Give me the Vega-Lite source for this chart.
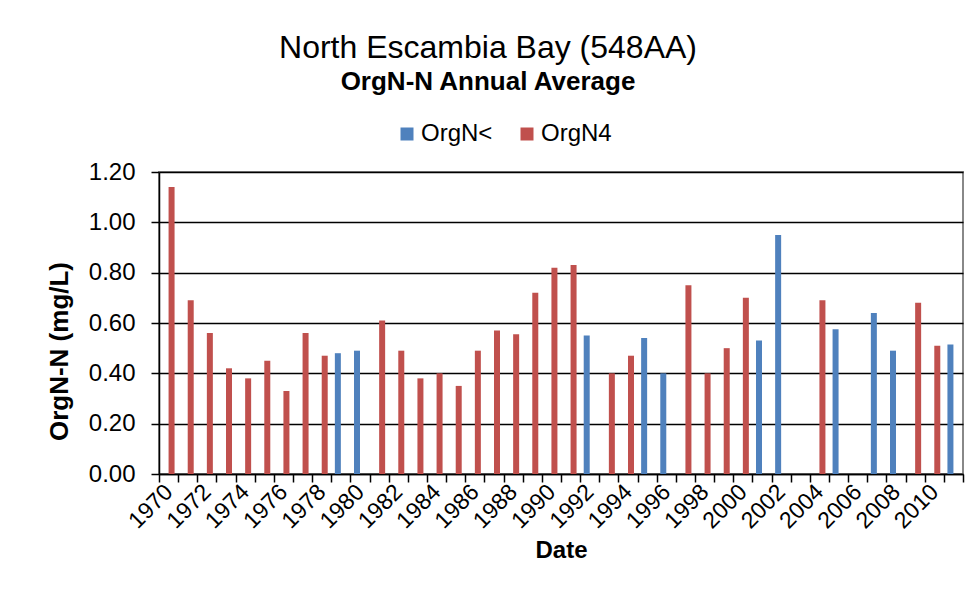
{
  "$schema": "https://vega.github.io/schema/vega-lite/v6.json",
  "autosize": "none",
  "width": 804,
  "height": 302,
  "padding": {"left": 159, "top": 172, "right": 17, "bottom": 133},
  "background": "white",
  "title": {
    "text": "North Escambia Bay (548AA)",
    "subtitle": "OrgN-N Annual Average",
    "anchor": "middle",
    "dx": -73,
    "offset": 26,
    "font": "Liberation Sans",
    "fontSize": 32,
    "fontWeight": "normal",
    "color": "black",
    "subtitleFont": "Liberation Sans",
    "subtitleFontSize": 26,
    "subtitleFontWeight": "bold",
    "subtitleColor": "black",
    "subtitlePadding": 4
  },
  "data": {
    "values": [
      {"year": 1970, "series": "OrgN4", "value": 1.14},
      {"year": 1971, "series": "OrgN4", "value": 0.69},
      {"year": 1972, "series": "OrgN4", "value": 0.56},
      {"year": 1973, "series": "OrgN4", "value": 0.42},
      {"year": 1974, "series": "OrgN4", "value": 0.38},
      {"year": 1975, "series": "OrgN4", "value": 0.45},
      {"year": 1976, "series": "OrgN4", "value": 0.33},
      {"year": 1977, "series": "OrgN4", "value": 0.56},
      {"year": 1978, "series": "OrgN4", "value": 0.47},
      {"year": 1979, "series": "OrgN<", "value": 0.48},
      {"year": 1980, "series": "OrgN<", "value": 0.49},
      {"year": 1981, "series": "OrgN4", "value": 0.61},
      {"year": 1982, "series": "OrgN4", "value": 0.49},
      {"year": 1983, "series": "OrgN4", "value": 0.38},
      {"year": 1984, "series": "OrgN4", "value": 0.40},
      {"year": 1985, "series": "OrgN4", "value": 0.35},
      {"year": 1986, "series": "OrgN4", "value": 0.49},
      {"year": 1987, "series": "OrgN4", "value": 0.57},
      {"year": 1988, "series": "OrgN4", "value": 0.555},
      {"year": 1989, "series": "OrgN4", "value": 0.72},
      {"year": 1990, "series": "OrgN4", "value": 0.82},
      {"year": 1991, "series": "OrgN4", "value": 0.83},
      {"year": 1992, "series": "OrgN<", "value": 0.55},
      {"year": 1993, "series": "OrgN4", "value": 0.40},
      {"year": 1994, "series": "OrgN4", "value": 0.47},
      {"year": 1995, "series": "OrgN<", "value": 0.54},
      {"year": 1996, "series": "OrgN<", "value": 0.40},
      {"year": 1997, "series": "OrgN4", "value": 0.75},
      {"year": 1998, "series": "OrgN4", "value": 0.40},
      {"year": 1999, "series": "OrgN4", "value": 0.50},
      {"year": 2000, "series": "OrgN4", "value": 0.70},
      {"year": 2001, "series": "OrgN<", "value": 0.53},
      {"year": 2002, "series": "OrgN<", "value": 0.95},
      {"year": 2004, "series": "OrgN4", "value": 0.69},
      {"year": 2005, "series": "OrgN<", "value": 0.575},
      {"year": 2007, "series": "OrgN<", "value": 0.64},
      {"year": 2008, "series": "OrgN<", "value": 0.49},
      {"year": 2009, "series": "OrgN4", "value": 0.68},
      {"year": 2010, "series": "OrgN4", "value": 0.51},
      {"year": 2011, "series": "OrgN<", "value": 0.515}
    ]
  },
  "mark": {"type": "bar"},
  "encoding": {
    "x": {
      "field": "year",
      "type": "ordinal",
      "scale": {
        "domain": [1970,1971,1972,1973,1974,1975,1976,1977,1978,1979,1980,1981,1982,1983,1984,1985,1986,1987,1988,1989,1990,1991,1992,1993,1994,1995,1996,1997,1998,1999,2000,2001,2002,2003,2004,2005,2006,2007,2008,2009,2010,2011],
        "paddingInner": 0,
        "paddingOuter": 0
      },
      "axis": {
        "title": "Date",
        "titleFont": "Liberation Sans",
        "titleFontSize": 24,
        "titleFontWeight": "bold",
        "titleColor": "black",
        "titleBaseline": "alphabetic",
        "titleY": 83,
        "labelExpr": "datum.value % 2 == 0 ? datum.label : ''",
        "labelAngle": -45,
        "labelAlign": "right",
        "labelBaseline": "middle",
        "labelFont": "Liberation Sans",
        "labelFontSize": 23,
        "labelColor": "black",
        "labelPadding": 6,
        "labelOverlap": false,
        "labelBound": false,
        "tickBand": "extent",
        "tickSize": 8,
        "tickColor": "black",
        "tickWidth": 1.5,
        "domainColor": "black",
        "domainWidth": 1.5,
        "grid": false
      }
    },
    "xOffset": {
      "field": "series",
      "type": "nominal",
      "scale": {"domain": ["OrgN<", "OrgN4"], "paddingInner": 0, "paddingOuter": 0.595}
    },
    "y": {
      "field": "value",
      "type": "quantitative",
      "scale": {"domain": [0, 1.2], "nice": false},
      "axis": {
        "title": "OrgN-N (mg/L)",
        "titleFont": "Liberation Sans",
        "titleFontSize": 26,
        "titleFontWeight": "bold",
        "titleColor": "black",
        "titleX": -87,
        "titleY": 179,
        "titleAlign": "center",
        "titleBaseline": "bottom",
        "values": [0, 0.2, 0.4, 0.6, 0.8, 1.0, 1.2],
        "format": ".2f",
        "labelFont": "Liberation Sans",
        "labelFontSize": 24,
        "labelColor": "black",
        "labelPadding": 16,
        "tickSize": 8,
        "tickColor": "black",
        "tickWidth": 1.5,
        "domainColor": "black",
        "domainWidth": 1.5,
        "grid": true,
        "gridColor": "black",
        "gridWidth": 1.5
      }
    },
    "color": {
      "field": "series",
      "type": "nominal",
      "scale": {"domain": ["OrgN<", "OrgN4"], "range": ["#4F81BD", "#C0504D"]},
      "legend": {
        "title": null,
        "orient": "none",
        "direction": "horizontal",
        "legendX": 236,
        "legendY": -50,
        "symbolType": "square",
        "symbolSize": 169,
        "symbolStrokeWidth": 0,
        "labelFont": "Liberation Sans",
        "labelFontSize": 24,
        "labelColor": "black",
        "labelOffset": 2,
        "columnPadding": 22
      }
    }
  },
  "config": {
    "view": {"stroke": "#888888", "strokeWidth": 2}
  }
}
